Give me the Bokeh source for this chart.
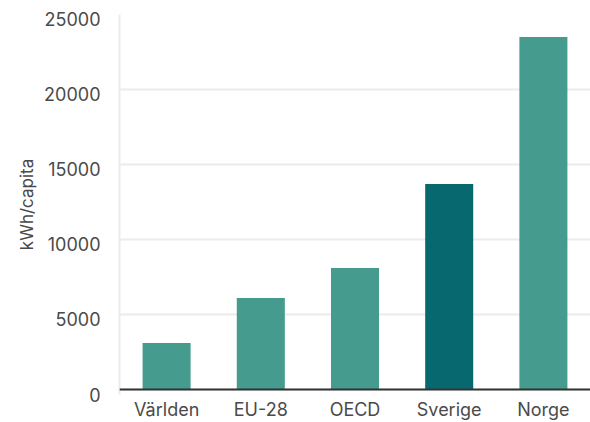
from bokeh.plotting import figure
from bokeh.models import ColumnDataSource, FactorRange, Range1d, FixedTicker, Span
from bokeh.embed import file_html
from bokeh.resources import INLINE

categories = ["Världen", "EU-28", "OECD", "Sverige", "Norge"]
values = [3100, 6100, 8100, 13700, 23500]
colors = ["#459b8d", "#459b8d", "#459b8d", "#08686f", "#459b8d"]
y_ticks = [0, 5000, 10000, 15000, 20000, 25000]

src = ColumnDataSource(dict(cat=categories, val=values, color=colors))

# the value axis ends at 25000; a little room is left below zero so that the
# tick labels can hang under their grid lines, as in the reference
y_min, y_max = -333, 25000
label_shift = 333  # ~5 px in data units, moves the tick labels below their lines

p = figure(width=590, height=422, output_backend="svg", toolbar_location=None,
           x_range=FactorRange(*categories, range_padding=0),
           y_range=Range1d(y_min, y_max),
           min_border_left=119, min_border_right=0, min_border_top=14, min_border_bottom=28)
p.outline_line_color = None
p.background_fill_color = "white"
p.border_fill_color = "white"
p.extra_y_ranges = {"lbl": Range1d(y_min + label_shift, y_max + label_shift)}

p.vbar(x="cat", top="val", width=0.51, color="color", source=src, line_color=None)

font = "Inter"
txt = "#4a4a4a"
p.ygrid.ticker = FixedTicker(ticks=y_ticks)
p.ygrid.grid_line_color = "#ebebeb"
p.ygrid.grid_line_width = 2
p.xgrid.grid_line_color = None

ax = p.yaxis[0]
ax.y_range_name = "lbl"
ax.ticker = FixedTicker(ticks=y_ticks)
ax.axis_line_color = "#ebebeb"
ax.axis_line_width = 2
ax.major_tick_line_color = None
ax.minor_tick_line_color = None
ax.major_tick_out = 0
ax.major_tick_in = 0
ax.major_label_standoff = 19
ax.major_label_text_font = font
ax.major_label_text_font_size = "18px"
ax.major_label_text_color = txt
ax.axis_label = "kWh/capita"
ax.axis_label_text_font = font
ax.axis_label_text_font_style = "normal"
ax.axis_label_text_font_size = "17px"
ax.axis_label_text_color = txt
ax.axis_label_standoff = 4

p.add_layout(Span(location=0, dimension="width", line_color="#333333", line_width=2))

xa = p.xaxis[0]
xa.axis_line_color = None
xa.major_tick_line_color = None
xa.major_tick_out = 0
xa.major_tick_in = 0
xa.major_label_standoff = 4
xa.major_label_text_font = font
xa.major_label_text_font_size = "18px"
xa.major_label_text_color = txt

open("out.html", "w").write(file_html(p, INLINE))
